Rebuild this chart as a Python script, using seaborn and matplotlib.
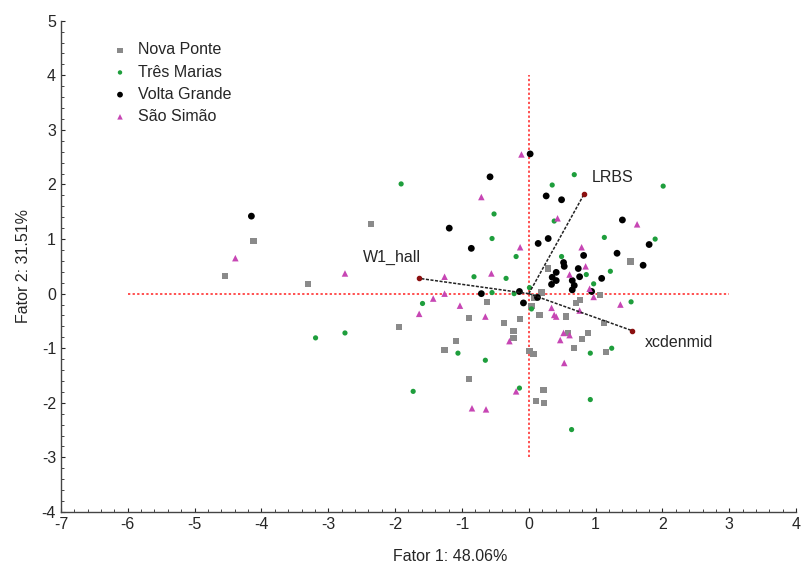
import pandas as pd
import numpy as np
import seaborn as sns
import matplotlib
matplotlib.use("Agg")
import matplotlib.pyplot as plt
from matplotlib.ticker import MultipleLocator

# Scores (Fator 1, Fator 2) per reservoir
nova_ponte_x = [-4.54, -4.12, -3.30, -2.36, -1.94, -0.62, -0.89, -0.37, -0.13, -0.23,
                -0.23, -1.09, -1.26, 0.01, 0.07, -0.89, 0.22, 0.11, 0.23, 0.19,
                0.04, 0.16, 0.29, 0.71, 0.76, 0.56, 1.07, 1.52, 1.12, 0.88,
                0.59, 0.79, 0.68, 1.16, 0.08]
nova_ponte_y = [0.33, 0.96, 0.18, 1.27, -0.61, -0.15, -0.44, -0.54, -0.46, -0.68,
                -0.81, -0.87, -1.03, -1.05, -1.11, -1.57, -1.77, -1.96, -2.01, 0.02,
                -0.22, -0.39, 0.46, -0.17, -0.11, -0.42, -0.02, 0.59, -0.54, -0.72,
                -0.72, -0.83, -1.00, -1.07, -0.07]

tres_marias_x = [-1.91, -3.19, -2.75, -1.73, -1.59, -1.06, -0.65, -0.14, -0.82, -0.55,
                 -0.34, -0.22, -0.19, -0.55, -0.52, 0.01, 0.04, 0.68, 0.35, 0.38,
                 0.49, 2.01, 1.13, 1.89, 1.22, 0.86, 0.97, 1.53, 1.24, 0.92,
                 0.92, 0.64]
tres_marias_y = [2.01, -0.81, -0.72, -1.79, -0.18, -1.09, -1.22, -1.73, 0.31, 0.02,
                 0.28, 0.00, 0.68, 1.01, 1.46, 0.11, -0.28, 2.18, 1.99, 1.33,
                 0.68, 1.97, 1.03, 1.00, 0.41, 0.35, 0.18, -0.15, -1.00, -1.09,
                 -1.94, -2.49]

volta_grande_x = [-4.15, 0.02, -0.58, 0.26, 0.49, 1.40, -1.19, 0.29, 0.14, -0.86,
                  1.80, 0.82, 1.32, 1.71, 0.52, 0.53, 0.74, 0.41, 0.35, 0.41,
                  0.34, 1.09, 0.65, 0.76, 0.68, 0.65, 0.94, -0.71, -0.14, -0.08,
                  0.13]
volta_grande_y = [1.42, 2.56, 2.14, 1.79, 1.72, 1.35, 1.20, 1.01, 0.92, 0.83,
                  0.90, 0.70, 0.74, 0.52, 0.57, 0.50, 0.46, 0.39, 0.30, 0.24,
                  0.17, 0.28, 0.24, 0.31, 0.15, 0.07, 0.04, 0.00, 0.04, -0.17,
                  -0.07]

sao_simao_x = [-4.39, -2.75, -1.43, -1.64, -1.26, -1.26, -1.03, -0.56, -0.65, -0.29,
               -0.11, -0.71, -0.13, 0.43, 0.79, 1.62, 0.85, 0.61, 0.97, 0.91,
               1.37, 0.76, 0.34, 0.38, 0.41, 0.52, 0.61, 0.47, 0.53, -0.19,
               -0.85, -0.64]
sao_simao_y = [0.65, 0.37, -0.09, -0.37, 0.31, 0.00, -0.22, 0.37, -0.42, -0.87,
               2.55, 1.77, 0.85, 1.38, 0.85, 1.27, 0.50, 0.35, -0.06, 0.09,
               -0.20, -0.31, -0.26, -0.39, -0.42, -0.72, -0.76, -0.85, -1.27, -1.79,
               -2.10, -2.12]

# Variable vectors (loadings)
var_names = ["LRBS", "W1_hall", "xcdenmid"]
var_x = [0.83, -1.64, 1.55]
var_y = [1.83, 0.28, -0.68]

sites = ["Nova Ponte", "Três Marias", "Volta Grande", "São Simão"]
df = pd.concat([
    pd.DataFrame({"f1": nova_ponte_x, "f2": nova_ponte_y, "site": sites[0]}),
    pd.DataFrame({"f1": tres_marias_x, "f2": tres_marias_y, "site": sites[1]}),
    pd.DataFrame({"f1": volta_grande_x, "f2": volta_grande_y, "site": sites[2]}),
    pd.DataFrame({"f1": sao_simao_x, "f2": sao_simao_y, "site": sites[3]}),
], ignore_index=True)

sns.set_style("ticks")
plt.rcParams["font.family"] = ["Liberation Sans", "DejaVu Sans"]

palette = {"Nova Ponte": "#8a8a8a", "Três Marias": "#1e9e3c",
           "Volta Grande": "#000000", "São Simão": "#c746b4"}
markers = {"Nova Ponte": "s", "Três Marias": "o",
           "Volta Grande": "o", "São Simão": "^"}
sizes = {"Nova Ponte": 20, "Três Marias": 14, "Volta Grande": 24, "São Simão": 22}

fig = plt.figure(figsize=(8.01, 5.66), dpi=100)
ax = fig.add_axes([0.076, 0.0954, 0.918, 0.868])

# red dotted reference axes
ax.plot([-6, 3], [0, 0], color="#ff2020", ls=(0, (1.5, 1.5)), lw=1.1, zorder=1)
ax.plot([0, 0], [-3, 4], color="#ff2020", ls=(0, (1.5, 1.5)), lw=1.1, zorder=1)

for s in sites:
    sub = df[df["site"] == s]
    sns.scatterplot(data=sub, x="f1", y="f2", color=palette[s], marker=markers[s],
                    s=sizes[s], edgecolor="none", label=s, ax=ax, zorder=3)

# loading vectors
for name, vx, vy in zip(var_names, var_x, var_y):
    ax.plot([0, vx], [0, vy], color="#222222", ls=(0, (2, 1)), lw=1.1, zorder=4)
    ax.scatter([vx], [vy], color="#8b1010", s=9, zorder=5)

ax.text(0.94, 2.12, "LRBS", fontsize=11.5, va="center", ha="left", zorder=6)
ax.text(-2.48, 0.66, "W1_hall", fontsize=11.5, va="center", ha="left", zorder=6)
ax.text(1.73, -0.90, "xcdenmid", fontsize=11.5, va="center", ha="left", zorder=6)

ax.set_xlim(-7, 4)
ax.set_ylim(-4, 5)
ax.xaxis.set_major_locator(MultipleLocator(1))
ax.xaxis.set_minor_locator(MultipleLocator(0.2))
ax.yaxis.set_major_locator(MultipleLocator(1))
ax.yaxis.set_minor_locator(MultipleLocator(0.2))
ax.tick_params(which="both", direction="in", top=False, right=False, labelsize=11.5)
ax.tick_params(which="major", length=3, width=0.8)
ax.tick_params(which="minor", length=2, width=0.6)
ax.set_xticklabels([str(int(v)) if v >= 0 else "-" + str(int(-v)) for v in ax.get_xticks()])
ax.set_yticklabels([str(int(v)) if v >= 0 else "-" + str(int(-v)) for v in ax.get_yticks()])
sns.despine(ax=ax)
for sp in ["left", "bottom"]:
    ax.spines[sp].set_color("#444444")
    ax.spines[sp].set_linewidth(1.0)

ax.set_xlabel("Fator 1: 48.06%", fontsize=11.5)
ax.xaxis.set_label_coords(0.53, -0.075)
ax.set_ylabel("Fator 2: 31.51%", fontsize=11.5, labelpad=8)

leg = ax.legend(loc="upper left", bbox_to_anchor=(0.05, 0.985), frameon=False,
                fontsize=11.5, handletextpad=0.6, labelspacing=0.45,
                markerscale=0.85, handlelength=1.0)

fig.savefig("out.png", dpi=100)
